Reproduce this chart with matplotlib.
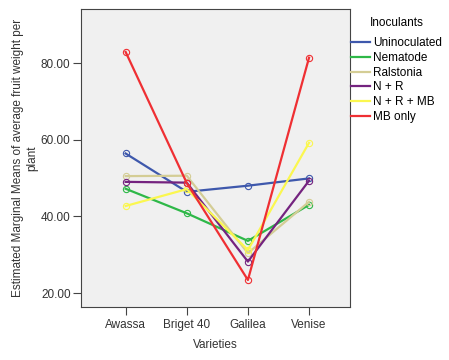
import matplotlib
matplotlib.use("Agg")
import matplotlib.pyplot as plt
from matplotlib.ticker import FormatStrFormatter

varieties = ["Awassa", "Briget 40", "Galilea", "Venise"]

uninoculated = [56.4, 46.4, 48.0, 49.9]
nematode = [47.2, 40.8, 33.6, 43.0]
ralstonia = [50.5, 50.6, 30.4, 43.8]
n_r = [49.0, 48.8, 28.2, 49.3]
n_r_mb = [42.7, 47.1, 31.2, 59.2]
mb_only = [82.9, 48.7, 23.4, 81.4]

series = [
    ("Uninoculated", uninoculated, "#3e58ac"),
    ("Nematode", nematode, "#2eb848"),
    ("Ralstonia", ralstonia, "#d4cd95"),
    ("N + R", n_r, "#74237f"),
    ("N + R + MB", n_r_mb, "#fbf74f"),
    ("MB only", mb_only, "#ef2f33"),
]

plt.rcParams['font.family'] = ['Liberation Sans', 'DejaVu Sans']
fs = 8.5

fig = plt.figure(figsize=(4.49, 3.6), dpi=100)
ax = fig.add_axes([81/449, 1-307/360, (350-81)/449, (307-9)/360])
ax.set_facecolor("#f0f0f0")

x = list(range(len(varieties)))
for name, vals, col in series:
    ax.plot(x, vals, color=col, lw=1.6, marker="o", ms=4.5, mfc="none",
            mec=col, mew=0.8, label=name)

ax.set_xlim(-0.73, 3.67)
ax.set_ylim(16.35, 94.1)
ax.set_yticks([20, 40, 60, 80])
ax.yaxis.set_major_formatter(FormatStrFormatter("%.2f"))
ax.set_xticks(x)
ax.set_xticklabels(varieties)
ax.tick_params(colors="#444444", labelcolor="#333333", labelsize=fs, length=6,
               width=0.8, pad=1.5)
ax.tick_params(axis="x", pad=2.5)
for s in ax.spines.values():
    s.set_color("#444444")
    s.set_linewidth(0.8)

ax.set_xlabel("Varieties", fontsize=fs, color="#333333", labelpad=6)
ax.set_ylabel("Estimated Marginal Means of average fruit weight per\nplant",
              fontsize=fs, color="#333333", labelpad=2)

leg = ax.legend(title="Inoculants", loc="upper left", bbox_to_anchor=(351/449, 1-17/360),
                bbox_transform=fig.transFigure, frameon=False, fontsize=fs,
                title_fontsize=fs, handlelength=1.6, handletextpad=0.3,
                labelspacing=0.23, borderaxespad=0, borderpad=0)
for line in leg.get_lines():
    line.set_marker("")
leg._legend_box.sep = 6

fig.savefig("out.png", dpi=100)
